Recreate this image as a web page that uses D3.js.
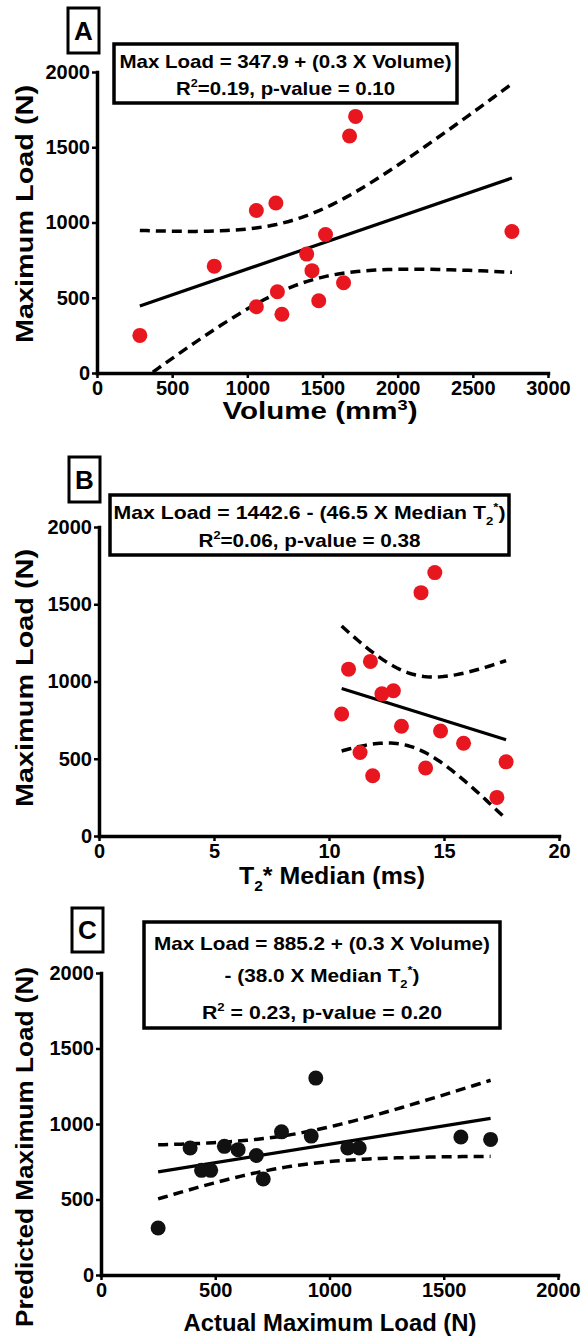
<!DOCTYPE html>
<html>
<head>
<meta charset="utf-8">
<script src="https://cdn.jsdelivr.net/npm/d3@7"></script>
<style>
  body { margin: 0; background: #fff; }
  svg { display: block; font-family: "Liberation Sans", Arial, sans-serif; font-weight: bold; }
</style>
</head>
<body>
<svg id="chart" width="587" height="1341"></svg>
<script>
// values, one entry per specimen (same order in every array)
const maxLoad       = [250, 390, 440, 480, 540, 600, 680, 710, 790, 920, 940, 1080, 1130, 1575, 1705];
const volume        = [285, 1230, 1060, 1475, 1200, 1640, 1430, 780, 1395, 1520, 2760, 1060, 1190, 1680, 1720];
const t2Median      = [17.3, 11.9, 14.2, 17.7, 11.35, 15.85, 14.85, 13.15, 10.55, 12.3, 12.8, 10.85, 11.8, 14.0, 14.6];
const predictedLoad = [311, 841, 693, 693, 852, 830, 791, 636, 948, 920, 1304, 841, 841, 914, 898];

const loadTicks   = [0, 500, 1000, 1500, 2000];
const volumeTicks = [0, 500, 1000, 1500, 2000, 2500, 3000];
const t2Ticks     = [0, 5, 10, 15, 20];

const T_CRIT = 2.160; // t(0.975, df = 13), 95% band of the fit

var svg = d3.select("#chart");

// least squares fit plus 95% confidence band of the mean
function fitLine(xs, ys) {
    var n = xs.length;
    var mx = d3.mean(xs), my = d3.mean(ys);
    var sxx = d3.sum(xs, (x) => (x - mx) * (x - mx));
    var sxy = d3.sum(xs, (x, i) => (x - mx) * (ys[i] - my));
    var b = sxy / sxx;
    var a = my - b * mx;
    var sse = d3.sum(xs, (x, i) => Math.pow(ys[i] - (a + b * x), 2));
    var s = Math.sqrt(sse / (n - 2));
    return {
        at: (x) => a + b * x,
        half: (x) => T_CRIT * s * Math.sqrt(1 / n + (x - mx) * (x - mx) / sxx)
    };
}

// text with sub/superscript pieces: segs = [[text, "sup"|"sub"|undefined], ...]
function richText(g, x, y, segs, size, width, rotate) {
    var t = g.append("text")
        .attr("x", x).attr("y", y)
        .attr("text-anchor", "middle")
        .style("font-size", size + "px");
    if (rotate) t.attr("transform", "rotate(-90," + x + "," + y + ")");
    var shift = 0;
    segs.forEach((seg) => {
        var target = seg[1] === "sup" ? -size * 0.4 : seg[1] === "sub" ? size * 0.3 : 0;
        var sp = t.append("tspan").attr("dy", target - shift).text(seg[0]);
        if (seg[1]) sp.style("font-size", (size * 0.62) + "px");
        shift = target;
    });
    if (width) t.attr("textLength", width).attr("lengthAdjust", "spacingAndGlyphs");
    return t;
}

var panels = [
    {
        key: "A", xs: volume, ys: maxLoad, color: "#e8161e",
        xDomain: [0, 3000], xTicks: volumeTicks, xRange: [97, 548], yRange: [373, 72],
        letterBox: [68, 8, 31, 45],
        eqBox: [114, 44, 343, 59],
        eqLines: [
            { y: 68, w: 332, segs: [["Max Load = 347.9 + (0.3 X Volume)"]] },
            { y: 95, w: 219, segs: [["R"], ["2", "sup"], ["=0.19, p-value = 0.10"]] }
        ],
        xLabel: { x: 320, y: 419, w: 195, segs: [["Volume (mm"], ["3", "sup"], [")"]] },
        yLabel: { x: 33, y: 214, w: 258, segs: [["Maximum Load (N)"]] }
    },
    {
        key: "B", xs: t2Median, ys: maxLoad, color: "#e8161e",
        xDomain: [0, 20], xTicks: t2Ticks, xRange: [99, 559], yRange: [836, 527],
        letterBox: [69, 457, 31, 45],
        eqBox: [110, 495, 399, 60],
        eqLines: [
            { y: 519, w: 392, segs: [["Max Load = 1442.6 - (46.5 X Median T"], ["2", "sub"], ["*", "sup"], [")"]] },
            { y: 547, w: 222, segs: [["R"], ["2", "sup"], ["=0.06, p-value = 0.38"]] }
        ],
        xLabel: { x: 332, y: 884, w: 186, segs: [["T"], ["2", "sub"], ["* Median (ms)"]] },
        yLabel: { x: 33, y: 678, w: 258, segs: [["Maximum Load (N)"]] }
    },
    {
        key: "C", xs: maxLoad, ys: predictedLoad, color: "#111",
        xDomain: [0, 2000], xTicks: loadTicks, xRange: [101, 558], yRange: [1275, 973],
        letterBox: [72, 908, 31, 44],
        eqBox: [144, 922, 356, 106],
        eqLines: [
            { y: 950, w: 336, segs: [["Max Load = 885.2 + (0.3 X Volume)"]] },
            { y: 982, w: 195, segs: [["- (38.0 X Median T"], ["2", "sub"], ["*", "sup"], [")"]] },
            { y: 1019, w: 240, segs: [["R"], ["2", "sup"], [" = 0.23, p-value = 0.20"]] }
        ],
        xLabel: { x: 330, y: 1331, w: 293, segs: [["Actual Maximum Load (N)"]] },
        yLabel: { x: 33, y: 1147, w: 360, segs: [["Predicted Maximum Load (N)"]] }
    }
];

panels.forEach(drawPanel);

function drawPanel(p, idx) {
    var x = d3.scaleLinear().domain(p.xDomain).range(p.xRange);
    var y = d3.scaleLinear().domain([0, 2000]).range(p.yRange);
    var g = svg.append("g").attr("class", "panel-" + p.key);

    var clipId = "clip" + idx;
    g.append("clipPath").attr("id", clipId)
        .append("rect")
        .attr("x", p.xRange[0]).attr("y", p.yRange[1])
        .attr("width", p.xRange[1] - p.xRange[0])
        .attr("height", p.yRange[0] - p.yRange[1]);

    // fit and confidence band
    var f = fitLine(p.xs, p.ys);
    var xmin = d3.min(p.xs), xmax = d3.max(p.xs);
    var grid = d3.range(0, 61).map((i) => xmin + (xmax - xmin) * i / 60);
    var line = d3.line().x((d) => x(d[0])).y((d) => y(d[1]));

    var fits = g.append("g").attr("clip-path", "url(#" + clipId + ")")
        .attr("fill", "none").attr("stroke", "#000");
    fits.append("path")
        .attr("d", line(grid.map((v) => [v, f.at(v) + f.half(v)])))
        .attr("stroke-width", 3.5).attr("stroke-dasharray", "10,6");
    fits.append("path")
        .attr("d", line(grid.map((v) => [v, f.at(v) - f.half(v)])))
        .attr("stroke-width", 3.5).attr("stroke-dasharray", "10,6");
    fits.append("path")
        .attr("d", line([[xmin, f.at(xmin)], [xmax, f.at(xmax)]]))
        .attr("stroke-width", 3.2);

    // points
    g.append("g").selectAll("circle")
        .data(p.xs.map((v, i) => [v, p.ys[i]]))
        .enter()
        .append("circle")
        .attr("cx", (d) => x(d[0]))
        .attr("cy", (d) => y(d[1]))
        .attr("r", 7.5)
        .attr("fill", p.color);

    // axes
    var fmt = d3.format("d");
    var yAxis = g.append("g")
        .attr("transform", "translate(" + p.xRange[0] + ",0)")
        .call(d3.axisLeft(y).tickValues(loadTicks).tickFormat(fmt)
            .tickSize(5).tickSizeOuter(0).tickPadding(2));
    var xAxis = g.append("g")
        .attr("transform", "translate(0," + p.yRange[0] + ")")
        .call(d3.axisBottom(x).tickValues(p.xTicks).tickFormat(fmt)
            .tickSize(5).tickSizeOuter(0).tickPadding(3));
    [yAxis, xAxis].forEach((ax) => {
        ax.select(".domain").attr("stroke", "#000").attr("stroke-width", 3.5).attr("stroke-linecap", "square");
        ax.selectAll(".tick line").attr("stroke", "#000").attr("stroke-width", 2.5);
        ax.selectAll(".tick text")
            .attr("fill", "#000")
            .style("font-family", "\"Liberation Sans\", Arial, sans-serif")
            .style("font-weight", "bold")
            .style("font-size", "20px");
    });

    // panel letter
    var lb = p.letterBox;
    g.append("rect")
        .attr("x", lb[0]).attr("y", lb[1]).attr("width", lb[2]).attr("height", lb[3])
        .attr("fill", "#fff").attr("stroke", "#000").attr("stroke-width", 3);
    g.append("text")
        .attr("x", lb[0] + lb[2] / 2).attr("y", lb[1] + lb[3] / 2 + 9)
        .attr("text-anchor", "middle")
        .style("font-size", "26px")
        .text(p.key);

    // equation box
    var eb = p.eqBox;
    g.append("rect")
        .attr("x", eb[0]).attr("y", eb[1]).attr("width", eb[2]).attr("height", eb[3])
        .attr("fill", "#fff").attr("stroke", "#000").attr("stroke-width", 3.5);
    p.eqLines.forEach((ln) => {
        richText(g, eb[0] + eb[2] / 2, ln.y, ln.segs, 19, ln.w);
    });

    // axis titles
    richText(g, p.xLabel.x, p.xLabel.y, p.xLabel.segs, 23, p.xLabel.w);
    richText(g, p.yLabel.x, p.yLabel.y, p.yLabel.segs, 23, p.yLabel.w, true);
}
</script>
</body>
</html>
